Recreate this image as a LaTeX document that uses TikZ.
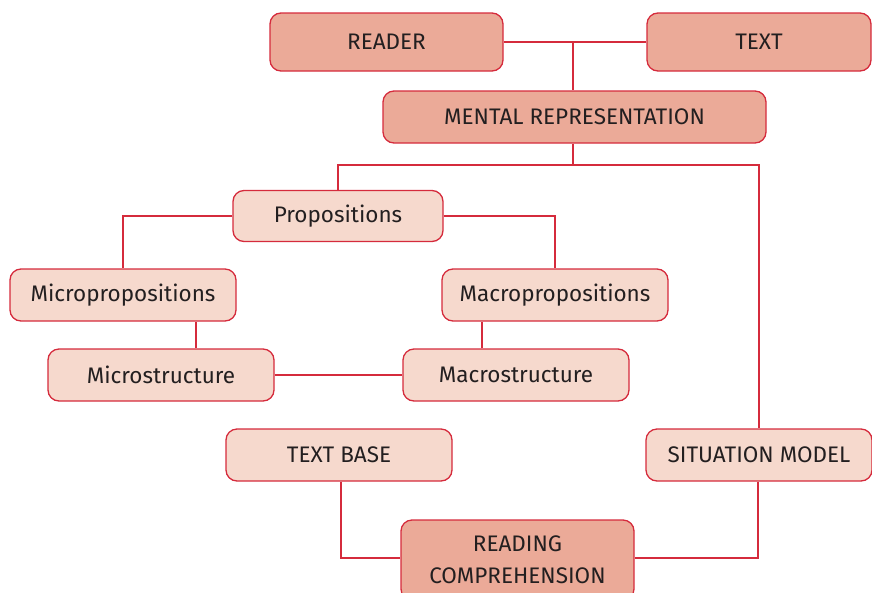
\documentclass[tikz,border=0pt]{standalone}
\usepackage{fontspec}
\setmainfont{Fira Sans}
\definecolor{lred}{HTML}{D52B3C}
\definecolor{dfill}{HTML}{EBAA98}
\definecolor{lfill}{HTML}{F6D9CD}
\definecolor{txt}{HTML}{231F20}
\begin{document}
\begin{tikzpicture}[x=1pt,y=-1pt,
  box/.style={draw=lred,line width=1.3pt,rounded corners=11pt,text=txt,font=\fontsize{22.5}{27}\selectfont,inner sep=0pt},
  dark/.style={box,fill=dfill},
  light/.style={box,fill=lfill},
  conn/.style={draw=lred,line width=1.3pt}]
\useasboundingbox (0,0) rectangle (872,592);
\begin{scope}
\clip (0,0) rectangle (872,592);
\node[dark,minimum width=233pt,minimum height=58pt] (reader) at (386.5,42) {READER};
\node[dark,minimum width=224pt,minimum height=58pt] (text) at (759,42) {TEXT};
\node[dark,minimum width=383pt,minimum height=52pt] (mental) at (574.5,117) {MENTAL REPRESENTATION};
\node[light,minimum width=210pt,minimum height=51pt] (prop) at (338,216) {Propositions};
\node[light,minimum width=226pt,minimum height=52pt] (micro) at (123,295) {Micropropositions};
\node[light,minimum width=226pt,minimum height=52pt] (macro) at (555,295) {Macropropositions};
\node[light,minimum width=226pt,minimum height=52pt] (micros) at (161,375) {Microstructure};
\node[light,minimum width=226pt,minimum height=52pt] (macros) at (516,375) {Macrostructure};
\node[light,minimum width=226pt,minimum height=52pt] (tbase) at (339,455) {TEXT BASE};
\node[light,minimum width=226pt,minimum height=52pt] (sit) at (759,455) {SITUATION MODEL};
\node[dark,minimum width=233pt,minimum height=80pt,align=center,font=\fontsize{22.5}{32}\selectfont] (rc) at (517.5,560) {READING\\COMPREHENSION};
\end{scope}
\coordinate (j1) at (573,42);
\coordinate (j2) at (573,165);
\draw[conn] (reader.east) -- (text.west);
\draw[conn] (j1) -- (j1 |- mental.north);
\draw[conn] (j2 |- mental.south) -- (j2);
\draw[conn] (j2) -| (prop.north);
\draw[conn] (j2) -| (sit.north);
\draw[conn] (prop.west) -| (micro.north);
\draw[conn] (prop.east) -| (macro.north);
\draw[conn] (micros.north -| 196,0) -- (micro.south -| 196,0);
\draw[conn] (macros.north -| 482,0) -- (macro.south -| 482,0);
\draw[conn] (micros.east) -- (macros.west);
\draw[conn] (tbase.south -| 341,0) |- (rc.west |- 0,558);
\draw[conn] (sit.south -| 758,0) |- (rc.east |- 0,558);
\end{tikzpicture}
\end{document}
